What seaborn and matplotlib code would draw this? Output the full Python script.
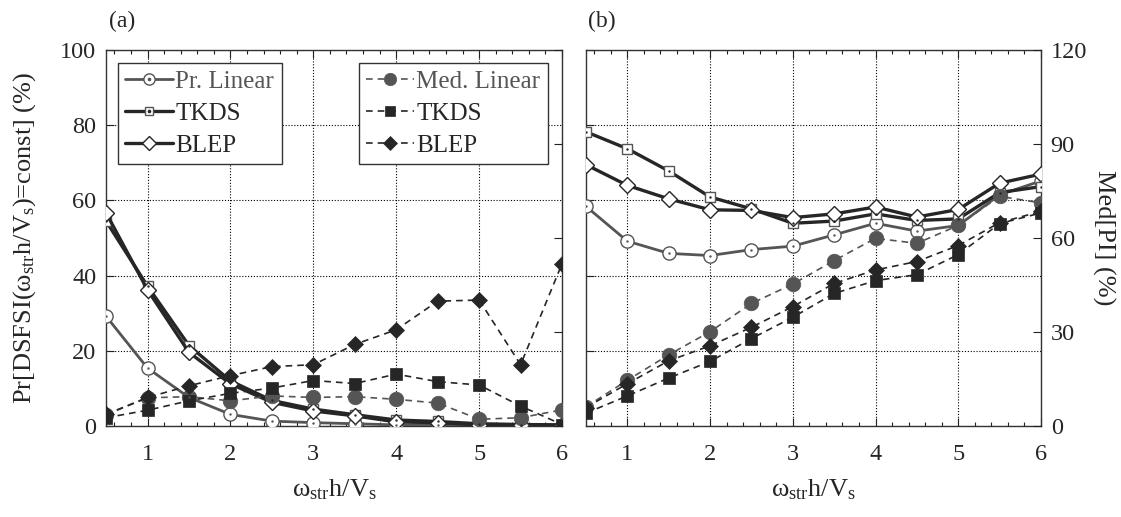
import numpy as np
import pandas as pd
import matplotlib
matplotlib.use("Agg")
import matplotlib.pyplot as plt
from matplotlib.ticker import MultipleLocator
from matplotlib.lines import Line2D
from matplotlib.legend_handler import HandlerTuple
import seaborn as sns

# ---------------- data ----------------
x_vals = [0.5, 1.0, 1.5, 2.0, 2.5, 3.0, 3.5, 4.0, 4.5, 5.0, 5.5, 6.0]

# panel (a): Pr[DSFSI(...)=const] (%)
pr_linear_a = [29.2, 15.4, 7.6, 3.1, 1.3, 0.9, 0.6, 0.3, 0.2, 0.1, 0.1, 0.1]
tkds_pr_a = [54.5, 37.2, 21.4, 12.0, 6.8, 4.5, 3.0, 1.6, 1.2, 0.6, 0.4, 0.3]
blep_pr_a = [56.7, 36.2, 19.6, 11.2, 6.3, 4.0, 2.7, 1.1, 0.9, 0.3, 0.2, 0.2]
med_linear_a = [3.0, 7.5, 7.8, 6.7, 8.0, 7.6, 7.8, 7.1, 6.1, 1.8, 2.2, 4.3]
tkds_med_a = [2.2, 4.2, 6.7, 8.7, 10.1, 12.1, 11.3, 13.8, 11.8, 10.9, 5.3, 0.4]
blep_med_a = [3.1, 7.6, 10.7, 13.4, 15.8, 16.3, 21.7, 25.6, 33.2, 33.5, 16.3, 43.2]

# panel (b): Med[PI] (%)
pr_linear_b = [70.1, 59.0, 55.1, 54.4, 56.3, 57.4, 61.0, 64.7, 62.2, 64.0, 73.8, 78.2]
tkds_pr_b = [93.9, 88.5, 81.4, 73.1, 69.3, 64.7, 65.4, 67.7, 65.6, 66.1, 74.5, 76.4]
blep_pr_b = [83.4, 76.8, 72.5, 69.0, 68.8, 66.5, 67.7, 69.9, 66.7, 69.1, 77.5, 80.4]
med_linear_b = [6.1, 14.6, 22.7, 30.1, 39.1, 45.3, 52.8, 59.9, 58.3, 64.0, 73.3, 71.2]
tkds_med_b = [4.1, 9.6, 15.3, 20.6, 27.9, 34.7, 42.3, 46.4, 48.3, 54.7, 64.6, 68.0]
blep_med_b = [5.9, 13.5, 20.8, 25.6, 31.5, 38.1, 45.5, 49.8, 52.5, 57.6, 64.9, 68.5]

legend_solid = ["Pr. Linear", "TKDS", "BLEP"]
legend_dashed = ["Med. Linear", "TKDS", "BLEP"]
x_ticks = [1, 2, 3, 4, 5, 6]
left_ticks = [0, 20, 40, 60, 80, 100]
right_ticks = [0, 30, 60, 90, 120]

# ---------------- style ----------------
sns.set_style("ticks")
plt.rcParams["font.family"] = ["Liberation Serif", "DejaVu Serif"]
plt.rcParams["mathtext.fontset"] = "custom"
plt.rcParams["mathtext.rm"] = "Liberation Serif"
plt.rcParams["mathtext.it"] = "Liberation Serif:italic"
plt.rcParams["font.size"] = 17

GRAY = "#555555"
DARK = "#262626"
TICK_FS = 17.5
LABEL_FS = 19
LEG_FS = 18

styles = {
    "pr_lin": dict(color=GRAY, lw=2.0, ls="-", marker="o", ms=9.5, mfc="white", mec=GRAY, mew=1.0),
    "pr_tkds": dict(color=DARK, lw=2.4, ls="-", marker="s", ms=7.5, mfc="white", mec=GRAY, mew=1.0),
    "pr_blep": dict(color=DARK, lw=2.4, ls="-", marker="D", ms=8, mfc="white", mec=DARK, mew=1.0),
    "med_lin": dict(color=GRAY, lw=1.2, ls=(0, (4, 3)), marker="o", ms=10.5, mfc=GRAY, mec=GRAY, mew=0.5),
    "med_tkds": dict(color=DARK, lw=1.2, ls=(0, (4, 3)), marker="s", ms=8.5, mfc=DARK, mec=DARK, mew=0.5),
    "med_blep": dict(color=DARK, lw=1.2, ls=(0, (4, 3)), marker="D", ms=8.5, mfc=DARK, mec=DARK, mew=0.5),
}
dot_color = {"pr_lin": GRAY, "pr_tkds": DARK, "pr_blep": None}

XLABEL = "ω$_{\\rm str}$h/V$_{\\rm s}$"


def draw(ax, y, key):
    st = styles[key]
    df = pd.DataFrame({"x": x_vals, "y": y})
    sns.lineplot(data=df, x="x", y="y", ax=ax, color=st["color"], linewidth=st["lw"],
                 linestyle=st["ls"], marker=st["marker"], markersize=st["ms"],
                 markerfacecolor=st["mfc"], markeredgecolor=st["mec"],
                 markeredgewidth=st["mew"], legend=False, zorder=3)
    if dot_color.get(key):
        sns.scatterplot(data=df, x="x", y="y", ax=ax, color=dot_color[key], s=3,
                        linewidth=0, legend=False, zorder=4)


def handle(key):
    st = styles[key]
    ln = Line2D([], [], color=st["color"], lw=st["lw"], ls=st["ls"], marker=st["marker"],
                ms=st["ms"] * 0.85, mfc=st["mfc"], mec=st["mec"], mew=st["mew"])
    if dot_color.get(key):
        dt = Line2D([], [], ls="none", marker="o", ms=1.6, mfc=dot_color[key], mec=dot_color[key])
        return (ln, dt)
    return ln


def style_axes(ax):
    ax.set_xlim(0.5, 6)
    ax.set_xticks(x_ticks)
    ax.xaxis.set_minor_locator(MultipleLocator(0.2))
    ax.set_ylim(0, 100)
    ax.set_yticks(left_ticks)
    ax.grid(True, which="major", color="black", linestyle=(0, (1, 1.6)), linewidth=0.8)
    ax.set_axisbelow(True)
    ax.tick_params(which="both", direction="in", top=True, bottom=True, left=True, right=False,
                   color="#222222")
    ax.tick_params(which="major", length=6, width=0.8)
    ax.tick_params(which="minor", length=3, width=0.8)
    ax.tick_params(axis="x", which="major", pad=13, labelsize=TICK_FS)
    ax.tick_params(axis="y", which="major", pad=7, labelsize=TICK_FS)
    for sp in ax.spines.values():
        sp.set_color("#333333")
        sp.set_linewidth(1.0)
    ax.set_xlabel(XLABEL, fontsize=LABEL_FS, labelpad=9)


fig = plt.figure(figsize=(11.21, 5.17), dpi=100)
ax_a = fig.add_axes([0.0946, 0.176, 0.4068, 0.7273])
ax_b = fig.add_axes([0.5227, 0.176, 0.4059, 0.7273])

# ---------- panel (a) ----------
style_axes(ax_a)
for y, k in [(pr_linear_a, "pr_lin"), (tkds_pr_a, "pr_tkds"), (blep_pr_a, "pr_blep"),
             (med_linear_a, "med_lin"), (tkds_med_a, "med_tkds"), (blep_med_a, "med_blep")]:
    draw(ax_a, y, k)
ax_a.set_ylabel("Pr[DSFSI(ω$_{\\rm str}$h/V$_{\\rm s}$)=const] (%)", fontsize=LABEL_FS)
ax_a.yaxis.set_label_coords(-0.15, 0.5)
ax_a.set_xlabel(XLABEL, fontsize=LABEL_FS, labelpad=9)
ax_a2 = ax_a.twinx()
ax_a2.set_ylim(0, 120)
ax_a2.set_yticks(right_ticks)
ax_a2.tick_params(direction="in", length=6, width=0.8, labelright=False, color="#222222")
for sp in ax_a2.spines.values():
    sp.set_visible(False)

leg_kw = dict(frameon=True, fancybox=False, framealpha=1, edgecolor="#333333", fontsize=LEG_FS,
              handlelength=1.9, handletextpad=0.1, labelspacing=0.38, borderpad=0.3,
              borderaxespad=0, handler_map={tuple: HandlerTuple(ndivide=1, pad=0)})
h1 = [handle("pr_lin"), handle("pr_tkds"), handle("pr_blep")]
leg1 = ax_a.legend(h1, legend_solid, loc="upper left", bbox_to_anchor=(0.026, 0.966), **leg_kw)
leg1.get_frame().set_linewidth(1.0)
for t, c in zip(leg1.get_texts(), [GRAY, DARK, DARK]):
    t.set_color(c)
ax_a.add_artist(leg1)
h2 = [handle("med_lin"), handle("med_tkds"), handle("med_blep")]
leg2 = ax_a.legend(h2, legend_dashed, loc="upper right", bbox_to_anchor=(0.969, 0.966), **leg_kw)
leg2.get_frame().set_linewidth(1.0)
for t, c in zip(leg2.get_texts(), [GRAY, DARK, DARK]):
    t.set_color(c)

# ---------- panel (b) ----------
style_axes(ax_b)
ax_b.set_yticklabels([])
ax_b.set_ylabel("")
ax_b2 = ax_b.twinx()
ax_b2.set_ylim(0, 120)
ax_b2.set_yticks(right_ticks)
ax_b2.tick_params(direction="in", length=6, width=0.8, pad=7, labelsize=TICK_FS, color="#222222")
for sp in ax_b2.spines.values():
    sp.set_visible(False)
for y, k in [(pr_linear_b, "pr_lin"), (tkds_pr_b, "pr_tkds"), (blep_pr_b, "pr_blep"),
             (med_linear_b, "med_lin"), (tkds_med_b, "med_tkds"), (blep_med_b, "med_blep")]:
    draw(ax_b2, y, k)
ax_b2.set_xlim(0.5, 6)
ax_b2.set_xlabel("")
ax_b2.set_ylabel("Med[PI] (%)", fontsize=LABEL_FS, rotation=270, labelpad=20)

fig.text(0.0946 + 0.003, 0.958, "(a)", fontsize=17, ha="left", va="center")
fig.text(0.5227 + 0.002, 0.958, "(b)", fontsize=17, ha="left", va="center")

fig.savefig("out.png", dpi=100)
